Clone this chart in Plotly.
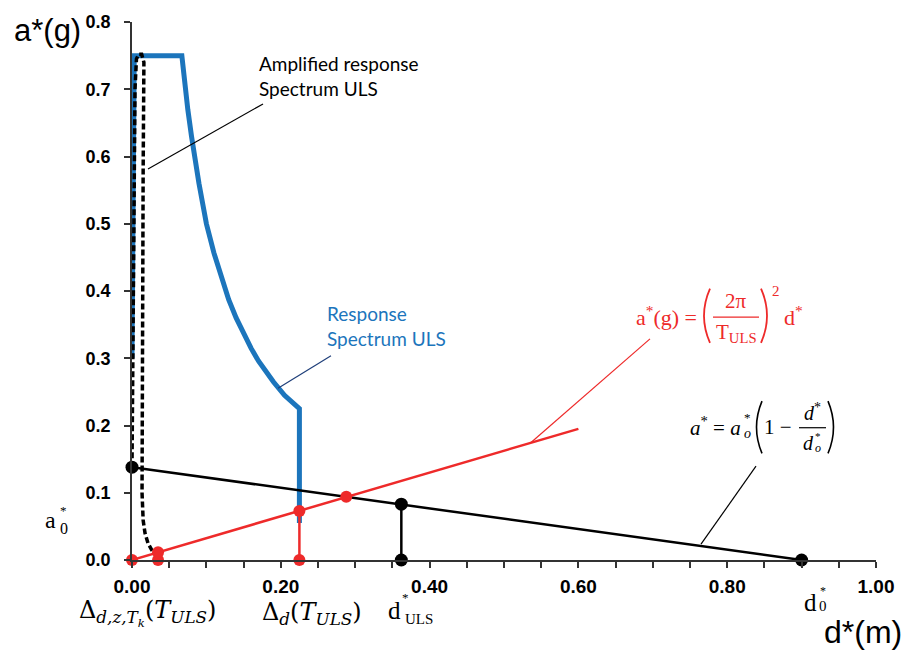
import plotly.graph_objects as go

# ---------------- data ----------------
# Response spectrum ULS (blue), ADRS format d*(m) vs a*(g)
rs_d = [0.0, 0.003, 0.067, 0.070, 0.075, 0.080, 0.085, 0.090, 0.095, 0.100, 0.110, 0.120, 0.130, 0.140,
        0.150, 0.160, 0.170, 0.180, 0.190, 0.205, 0.225, 0.225]
rs_a = [0.30, 0.75, 0.75, 0.718, 0.67, 0.63, 0.592, 0.56, 0.53, 0.50, 0.457, 0.42, 0.387, 0.36,
        0.336, 0.315, 0.296, 0.28, 0.265, 0.245, 0.225, 0.055]

# Amplified response spectrum ULS (black dashed)
amp_d = [0.0, 0.001, 0.002, 0.004, 0.006, 0.009, 0.013, 0.016, 0.015, 0.0145, 0.013, 0.0135, 0.015, 0.0175,
         0.0215, 0.028, 0.034]
amp_a = [0.138, 0.30, 0.50, 0.70, 0.745, 0.752, 0.752, 0.74, 0.58, 0.40, 0.20, 0.10, 0.059, 0.040,
         0.025, 0.012, 0.011]

# Demand line a* = (2pi/T_ULS)^2 d* (red)
dem_d = [0.0, 0.60]
dem_a = [0.0, 0.195]
red_pts_d = [0.0, 0.035, 0.035, 0.225, 0.225, 0.288]
red_pts_a = [0.0, 0.0, 0.0114, 0.073, 0.0, 0.094]
red_vert_d = [0.225, 0.225]
red_vert_a = [0.0, 0.073]

# Capacity line a* = a0*(1 - d*/d0*) (black)
cap_d = [0.0, 0.90]
cap_a = [0.138, 0.0]
blk_pts_d = [0.0, 0.362, 0.362, 0.90]
blk_pts_a = [0.138, 0.083, 0.0, 0.0]
blk_vert_d = [0.362, 0.362]
blk_vert_a = [0.0, 0.083]

x_ticks = [0.0, 0.2, 0.4, 0.6, 0.8, 1.0]
y_ticks = [0.0, 0.1, 0.2, 0.3, 0.4, 0.5, 0.6, 0.7, 0.8]

BLUE = "#1C75BC"
RED = "#EE2A2A"
BLACK = "#000000"
SERIF = "Liberation Serif"
MATH = "DejaVu Serif"
SANS = "Lato"

fig = go.Figure()
fig.add_trace(go.Scatter(x=rs_d, y=rs_a, mode="lines", line=dict(color=BLUE, width=5), showlegend=False))
fig.add_trace(go.Scatter(x=amp_d, y=amp_a, mode="lines", line=dict(color=BLACK, width=3.5, dash="6px,3px"), showlegend=False))
fig.add_trace(go.Scatter(x=cap_d, y=cap_a, mode="lines", line=dict(color=BLACK, width=2.5), showlegend=False))
fig.add_trace(go.Scatter(x=blk_vert_d, y=blk_vert_a, mode="lines", line=dict(color=BLACK, width=2.5), showlegend=False))
fig.add_trace(go.Scatter(x=dem_d, y=dem_a, mode="lines", line=dict(color=RED, width=2.5), showlegend=False))
fig.add_trace(go.Scatter(x=red_vert_d, y=red_vert_a, mode="lines", line=dict(color=RED, width=2.5), showlegend=False))
fig.add_trace(go.Scatter(x=blk_pts_d, y=blk_pts_a, mode="markers", marker=dict(color=BLACK, size=13),
                         cliponaxis=False, showlegend=False))
fig.add_trace(go.Scatter(x=red_pts_d, y=red_pts_a, mode="markers", marker=dict(color=RED, size=12),
                         cliponaxis=False, showlegend=False))

# ---------------- layout helpers (pixel -> paper) ----------------
L, R, T, B = 132, 876, 15, 560


def X(px):
    return (px - L) / (R - L)


def Y(py):
    return (B - py) / (B - T)


annotations = []
shapes = []


def txt(px, py, text, size, color="black", family=SERIF, xanchor="center", yanchor="middle", weight="normal"):
    annotations.append(dict(x=X(px), y=Y(py), xref="paper", yref="paper", text=text, showarrow=False,
                            xanchor=xanchor, yanchor=yanchor, borderpad=0,
                            font=dict(size=size, color=color, family=family, weight=weight)))


def seg(p1, p2, color, width=1.2):
    shapes.append(dict(type="line", xref="paper", yref="paper", x0=X(p1[0]), y0=Y(p1[1]),
                       x1=X(p2[0]), y1=Y(p2[1]), line=dict(color=color, width=width)))


def paren(x_end, x_ctrl, y0, y1, color, width=1.6):
    ym = (y0 + y1) / 2
    path = "M {:.5f},{:.5f} Q {:.5f},{:.5f} {:.5f},{:.5f}".format(X(x_end), Y(y0), X(x_ctrl), Y(ym), X(x_end), Y(y1))
    shapes.append(dict(type="path", xref="paper", yref="paper", path=path, line=dict(color=color, width=width)))


# axis titles
txt(13, 24, "a*(g)", 31, family="Liberation Sans", xanchor="left")
txt(903, 652, "d*(m)", 32, family="Liberation Sans", xanchor="right", yanchor="bottom")

# callouts
txt(258, 57, "Amplified response", 19, family=SANS, xanchor="left")
txt(258, 82, "Spectrum ULS", 19, family=SANS, xanchor="left")
seg((263, 98), (148, 164), BLACK)

txt(326, 310, "Response", 19, color=BLUE, family=SANS, xanchor="left")
txt(326, 336, "Spectrum ULS", 19, color=BLUE, family=SANS, xanchor="left")
seg((331, 353), (278, 386), "#1F3F7A")

# red formula a*(g) = (2pi/T_ULS)^2 d*
txt(698, 313, "a<sup>*</sup>(g) =", 22, color=RED, xanchor="right")
paren(710, 698, 285, 340, RED, 1.8)
txt(736, 298, "2π", 21, color=RED)
seg((713, 314), (759, 314), RED, 1.3)
txt(736, 330, "T<sub>ULS</sub>", 21, color=RED)
paren(761, 773, 285, 340, RED, 1.8)
txt(776, 287, "2", 15, color=RED)
txt(783, 313, "d<sup>*</sup>", 22, color=RED, xanchor="left")
seg((650, 336), (531, 441), RED)

# black formula a* = a_o*(1 - d*/d_o*)
txt(742, 425, "<i>a</i><sup>*</sup> = <i>a</i>", 21, xanchor="right")
txt(747, 416, "*", 13)
txt(747, 432, "<i>o</i>", 14)
paren(762, 751, 399, 452, BLACK, 1.6)
txt(778, 425, "1 −", 21)
txt(812, 410, "<i>d</i><sup>*</sup>", 20)
seg((799, 426), (826, 426), BLACK, 1.2)
txt(808, 441, "<i>d</i>", 20)
txt(818, 434, "*", 11)
txt(818, 447, "<i>o</i>", 12)
paren(828, 839, 399, 452, BLACK, 1.6)
seg((756, 465), (701, 544), BLACK)

# bottom / left labels
txt(50, 519, "a", 24)
txt(63, 510, "*", 13)
txt(64, 528, "0", 16)
txt(147, 614, "Δ<sub><i>d,z,T<sub>k</sub></i></sub>(<i>T<sub>ULS</sub></i>)", 24, family=MATH)
txt(312, 614, "Δ<sub><i>d</i></sub>(<i>T<sub>ULS</sub></i>)", 24, family=MATH)
txt(394, 611, "d", 25)
txt(405, 598, "*", 13)
txt(419, 620, "ULS", 15)
txt(810, 603, "d", 25)
txt(823, 591, "*", 12)
txt(823, 607, "0", 15)

fig.update_layout(
    width=913, height=657,
    margin=dict(l=L, r=913 - R, t=T, b=657 - B),
    paper_bgcolor="white", plot_bgcolor="white",
    annotations=annotations, shapes=shapes,
    xaxis=dict(range=[0, 1.0], tickvals=x_ticks, tickformat=".2f", ticks="outside", ticklen=6, tickwidth=1.5,
               tickcolor="#333333", showline=True, linecolor="#333333", linewidth=1.5, showgrid=False,
               zeroline=False, ticklabelstandoff=2,
               tickfont=dict(family="Liberation Sans", size=19, color="black", weight="bold"),
               minor=dict(dtick=0.05, ticks="outside", ticklen=6, tickwidth=1.5, tickcolor="#333333", showgrid=False)),
    yaxis=dict(range=[0, 0.8], tickvals=y_ticks, tickformat=".1f", ticks="outside", ticklen=6, tickwidth=1.5,
               tickcolor="#333333", showline=True, linecolor="#333333", linewidth=1.5, showgrid=False,
               zeroline=False, ticklabelstandoff=10,
               tickfont=dict(family="Liberation Sans", size=18, color="black", weight="bold")),
)

fig.write_html("out.html")
